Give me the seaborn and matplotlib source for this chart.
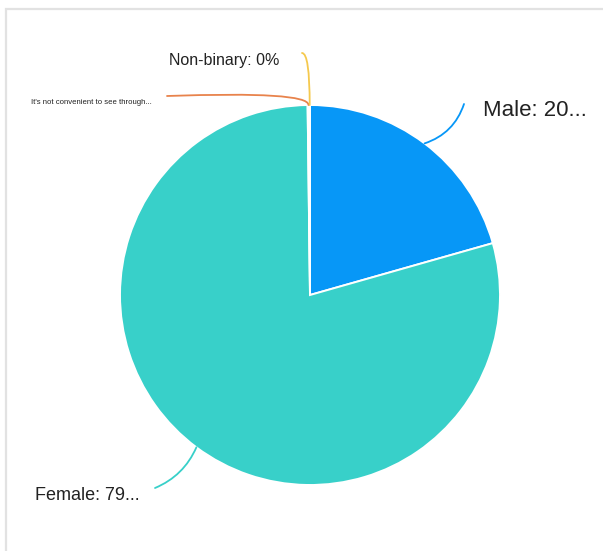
import matplotlib
matplotlib.use("Agg")
import matplotlib.pyplot as plt
from matplotlib.patches import Rectangle
import numpy as np
import seaborn as sns

# data
categories = ["Male", "Female", "It's not convenient to see through...", "Non-binary"]
shares = [20.6, 79.2, 0.15, 0.05]
labels = ["Male: 20...", "Female: 79...", "It's not convenient to see through...", "Non-binary: 0%"]
colors = ["#0797F7", "#38D0C9", "#E8834C", "#F5C94E"]

sns.set_theme(style="white")
plt.rcParams["font.family"] = ["Liberation Sans", "DejaVu Sans"]

fig = plt.figure(figsize=(6.03, 5.51), dpi=100)
ax = fig.add_axes([0, 0, 1, 1])

# pixel -> data helper (pie centre at px (310, 295), radius 190 px)
cx, cy, r = 310, 295, 190


def p2d(px, py):
    return (px - cx) / r, (cy - py) / r


wedges, _ = ax.pie(shares, colors=colors, startangle=90, counterclock=False,
                   radius=1.0, wedgeprops=dict(edgecolor="white", linewidth=1.4))

# leader lines: (line end px, connection style) and text placement
leaders = [
    ((464, 104), "arc3,rad=-0.25", (483, 110), "left", 16),
    ((155, 488), "arc3,rad=0.2", (35, 495), "left", 13),
    ((167, 96), "angle3,angleA=2,angleB=90", (152, 103), "right", 5.6),
    ((302, 53), "angle3,angleA=0,angleB=90", (279, 60), "right", 11.5),
]

for w, lab, col, (end, cs, tpos, ha, fs) in zip(wedges, labels, colors, leaders):
    mid = np.deg2rad((w.theta1 + w.theta2) / 2)
    start = (np.cos(mid), np.sin(mid))
    ax.annotate("", xy=start, xytext=p2d(*end),
                arrowprops=dict(arrowstyle="-", color=col, lw=1.3,
                                connectionstyle=cs, shrinkA=0, shrinkB=0))
    ax.text(*p2d(*tpos), lab, ha=ha, va="center", fontsize=fs,
            family=["Liberation Sans", "DejaVu Sans"], color="#222222")

ax.set_xlim(-cx / r, (603 - cx) / r)
ax.set_ylim(-(551 - cy) / r, cy / r)
ax.set_aspect("equal")
ax.axis("off")

fig.patches.append(Rectangle((6 / 603, -0.01), 1.0, 1 - 9 / 551 + 0.01,
                             transform=fig.transFigure, fill=False,
                             edgecolor="#e2e2e2", linewidth=1.6))

fig.savefig("out.png", dpi=100, facecolor="white")
